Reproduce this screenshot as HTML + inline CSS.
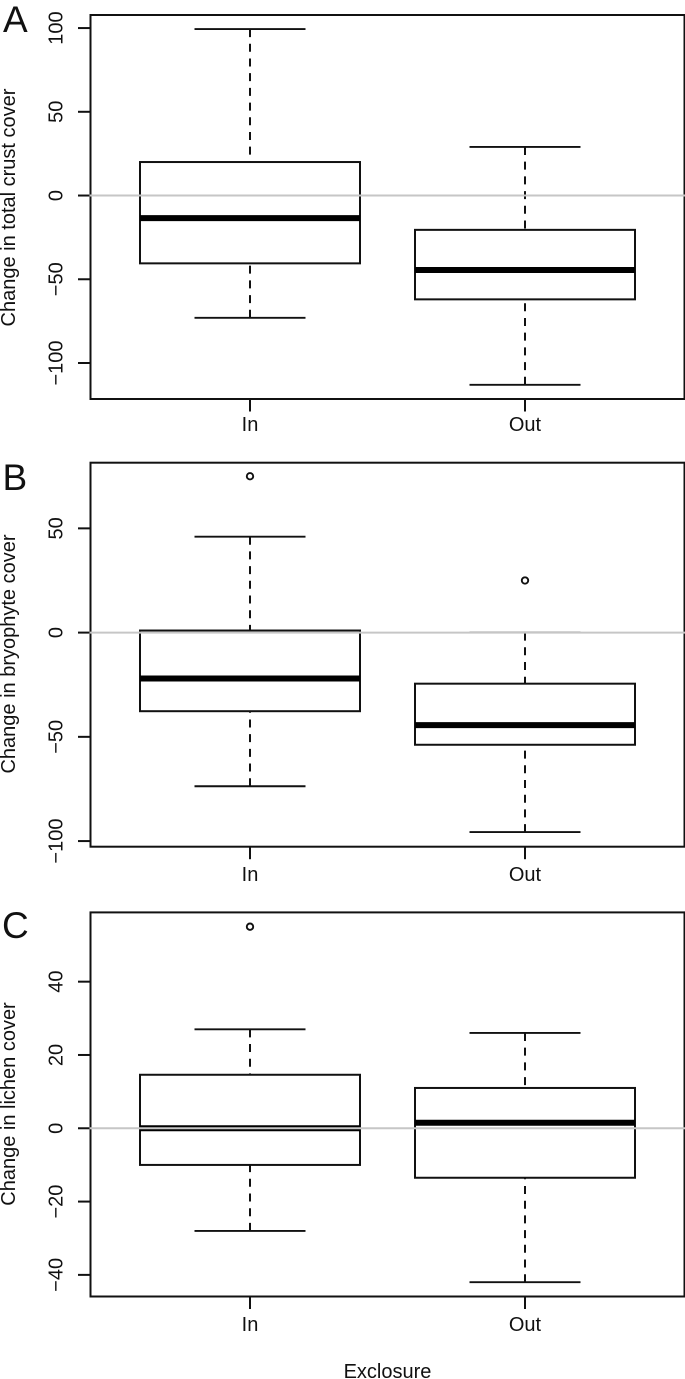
<!DOCTYPE html>
<html lang="en">
<head>
<meta charset="utf-8">
<title>Change in crust cover by exclosure</title>
<style>
  html, body { margin: 0; padding: 0; background: #fff; }
  svg { display: block; }
  text { font-family: "Liberation Sans", Arial, sans-serif; fill: #111111; }
</style>
</head>
<body>
<svg id="chart" xmlns="http://www.w3.org/2000/svg" width="685" height="1379" viewBox="0 0 685 1379">
  <rect x="0" y="0" width="685" height="1379" fill="#ffffff"/>
  <text x="3" y="32" font-size="37">A</text>
  <text x="2.5" y="490" font-size="37">B</text>
  <text x="2" y="938" font-size="37">C</text>
  <text transform="translate(15 207.5) rotate(-90)" text-anchor="middle" font-size="20">Change in total crust cover</text>
  <text transform="translate(15 654) rotate(-90)" text-anchor="middle" font-size="20">Change in bryophyte cover</text>
  <text transform="translate(15 1104) rotate(-90)" text-anchor="middle" font-size="20">Change in lichen cover</text>
  <text x="387.5" y="1378" text-anchor="middle" font-size="20">Exclosure</text>
</svg>
<script>
const categories = ['In', 'Out'];

const ticksA = [100, 50, 0, -50, -100];
const upperWhiskerA = [99.4, 29];
const upperQuartileA = [20, -20.5];
const medianA = [-13.5, -44.5];
const lowerQuartileA = [-40.5, -62];
const lowerWhiskerA = [-73, -113];
const outliersA = [[], []];

const ticksB = [50, 0, -50, -100];
const upperWhiskerB = [46, 0];
const upperQuartileB = [1, -24.5];
const medianB = [-22, -44.4];
const lowerQuartileB = [-37.7, -53.8];
const lowerWhiskerB = [-73.7, -95.7];
const outliersB = [[75], [25]];

const ticksC = [40, 20, 0, -20, -40];
const upperWhiskerC = [27, 26];
const upperQuartileC = [14.6, 11];
const medianC = [0, 1.5];
const lowerQuartileC = [-10, -13.5];
const lowerWhiskerC = [-28, -42];
const outliersC = [[55], []];

const panels = [
  { id: 'a', top: 15, bottom: 399, yMax: 107.8, yMin: -121.5, labelY: 431, ticks: ticksA,
    hi: upperWhiskerA, q3: upperQuartileA, med: medianA, q1: lowerQuartileA, lo: lowerWhiskerA, out: outliersA },
  { id: 'b', top: 462.7, bottom: 846.7, yMax: 81.5, yMin: -102.7, labelY: 881, ticks: ticksB,
    hi: upperWhiskerB, q3: upperQuartileB, med: medianB, q1: lowerQuartileB, lo: lowerWhiskerB, out: outliersB },
  { id: 'c', top: 912.4, bottom: 1296.5, yMax: 58.9, yMin: -45.9, labelY: 1331, ticks: ticksC,
    hi: upperWhiskerC, q3: upperQuartileC, med: medianC, q1: lowerQuartileC, lo: lowerWhiskerC, out: outliersC }
];

const SVG_NS = 'http://www.w3.org/2000/svg';
const svg = document.getElementById('chart');
const plotLeft = 90.5;
const plotRight = 684.5;
const INK = '#111111';

function xScale(position) {
  return 250 + position * 275;
}

function create(parent, tag, props) {
  const el = document.createElementNS(SVG_NS, tag);
  Object.keys(props).forEach(function (key) { el.setAttribute(key, props[key]); });
  parent.appendChild(el);
  return el;
}

function line(parent, x1, y1, x2, y2, width, color) {
  return create(parent, 'line', { x1: x1, y1: y1, x2: x2, y2: y2, stroke: color || INK, 'stroke-width': width });
}

panels.forEach(function (p) {
  const yScale = function (value) {
    return p.top + (p.yMax - value) / (p.yMax - p.yMin) * (p.bottom - p.top);
  };

  const group = create(svg, 'g', {});
  
  

  const frame = create(group, 'rect', {
    x: plotLeft, y: p.top, width: plotRight - plotLeft, height: p.bottom - p.top,
    fill: 'none', stroke: INK, 'stroke-width': 2
  });
  
  

  p.ticks.forEach(function (tick) {
    const y = yScale(tick);
    const mark = line(group, 78, y, plotLeft, y, 2);
    
    
    const label = create(group, 'text', {
      transform: 'translate(62.5 ' + y + ') rotate(-90)', 'text-anchor': 'middle', 'font-size': 20
    });
    label.textContent = String(tick).replace('-', '\u2212');
    
    
  });

  categories.forEach(function (category, i) {
    const cx = xScale(i);
    const boxHalf = 110;
    const capHalf = 55.5;

    const xTick = line(group, cx, p.bottom, cx, p.bottom + 12.5, 2);
    
    

    const xLabel = create(group, 'text', { x: cx, y: p.labelY, 'text-anchor': 'middle', 'font-size': 20 });
    xLabel.textContent = category;
    
    

    const upperWhisker = line(group, cx, yScale(p.hi[i]), cx, yScale(p.q3[i]), 2);
    upperWhisker.setAttribute('stroke-dasharray', '8 6.7');
    
    

    const lowerWhisker = line(group, cx, yScale(p.lo[i]), cx, yScale(p.q1[i]), 2);
    lowerWhisker.setAttribute('stroke-dasharray', '8 6.7');
    
    

    const upperCap = line(group, cx - capHalf, yScale(p.hi[i]), cx + capHalf, yScale(p.hi[i]), 1.9);
    
    

    const lowerCap = line(group, cx - capHalf, yScale(p.lo[i]), cx + capHalf, yScale(p.lo[i]), 1.9);
    
    

    const box = create(group, 'rect', {
      x: cx - boxHalf, y: yScale(p.q3[i]), width: boxHalf * 2,
      height: yScale(p.q1[i]) - yScale(p.q3[i]), fill: 'none', stroke: INK, 'stroke-width': 2
    });
    
    

    const median = line(group, cx - boxHalf, yScale(p.med[i]), cx + boxHalf, yScale(p.med[i]), 6, '#000000');
    
    

    p.out[i].forEach(function (value) {
      const point = create(group, 'circle', {
        cx: cx, cy: yScale(value), r: 3.2, fill: 'none', stroke: INK, 'stroke-width': 1.9
      });
      
      
    });
  });

  const zero = line(group, plotLeft - 1, yScale(0), plotRight + 1, yScale(0), 2, '#c6c6c6');
  
  
});
</script>
</body>
</html>
